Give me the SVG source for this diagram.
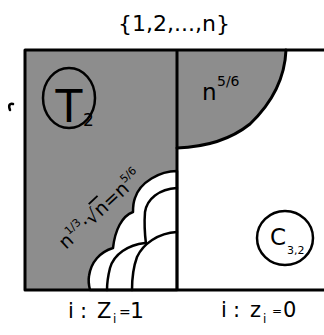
<svg xmlns="http://www.w3.org/2000/svg" width="324" height="335" viewBox="0 0 324 335">
<style>
.ln{fill:none;stroke:#000;stroke-width:3;stroke-linecap:round;stroke-linejoin:round}
.sc{fill:none;stroke:#000;stroke-width:2.5;stroke-linecap:round}
.gr{fill:#8d8d8d}
.t{font-family:"DejaVu Sans",sans-serif;fill:#000}
</style>
<rect width="324" height="335" fill="#fff"/>
<g id="region-left">
<rect class="gr" x="25" y="50" width="152" height="240"/>
</g>
<g id="region-top-right">
<path class="gr" d="M177,50 L286,50 C285,75 275,100 250,124 C230,140 205,147 177,148 Z"/>
<path class="ln" d="M286,50 C285,75 275,100 250,124 C230,140 205,147 177,148"/>
<text class="t" x="202" y="100" font-size="23">n</text>
<text class="t" x="217" y="86" font-size="14">5/6</text>
</g>
<g id="scallops">
<path d="M177,171 C160,171 140,182 135,198 C133,203 133,208 133,212 C122,216 115,230 113,248 C100,252 91,262 89,276 C88,282 89,286 90,290 L177,290 Z" fill="#fff" stroke="#000" stroke-width="2.5" stroke-linejoin="round"/>
<path class="sc" d="M177,188 C159,189 147,199 145,212 C144,225 145,236 146,244"/>
<path class="sc" d="M177,232 C158,233 143,244 137,257 C133,268 132,280 132,290"/>
<path class="sc" d="M145,243 C128,245 114,254 110,268 C108,276 107,283 107,290"/>
</g>
<g id="frame">
<path class="ln" d="M25,50 L324,50 M25,290 L324,290 M25,50 L25,290 M177,50 L177,290"/>
</g>
<g id="diag-label">
<text class="t" font-size="19" transform="translate(66,250) rotate(-43)">n<tspan font-size="11" dy="-9">1/3</tspan><tspan dy="9">·√</tspan><tspan text-decoration="overline">n</tspan>=n<tspan font-size="11" dy="-9">5/6</tspan></text>
</g>
<g id="T2">
<ellipse cx="69" cy="98" rx="26" ry="30" fill="none" stroke="#000" stroke-width="2.5"/>
<text class="t" x="69" y="122" font-size="44" text-anchor="middle">T</text>
<text class="t" x="83" y="126" font-size="17">2</text>
</g>
<g id="C32">
<ellipse cx="285" cy="238" rx="28" ry="27" fill="none" stroke="#000" stroke-width="2.5"/>
<text class="t" x="270" y="245" font-size="23">C</text>
<text class="t" x="287" y="254" font-size="11">3,2</text>
</g>
<g id="top-label">
<text class="t" x="174" y="31" font-size="22" text-anchor="middle">{1,2,...,n}</text>
</g>
<g id="bottom-labels">
<text class="t" x="68" y="318" font-size="21">i<tspan x="80">:</tspan><tspan x="97">Z</tspan><tspan x="113" dy="5" font-size="12">i</tspan><tspan x="119" dy="-6" font-size="14">=</tspan><tspan x="130" dy="1" font-size="22">1</tspan></text>
<text class="t" x="221" y="317" font-size="21">i<tspan x="233">:</tspan><tspan x="250">z</tspan><tspan x="263" dy="6" font-size="12">i</tspan><tspan x="272" dy="-8" font-size="12">=</tspan><tspan x="283" dy="2" font-size="21">0</tspan></text>
</g>
<path d="M13,104 C10,103 8,105 10,110" fill="none" stroke="#000" stroke-width="2.5" stroke-linecap="round"/>
</svg>
